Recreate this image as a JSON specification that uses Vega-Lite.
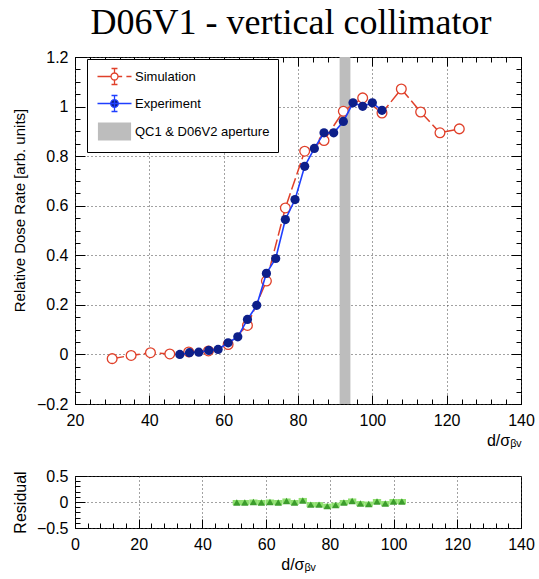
{
  "$schema": "https://vega.github.io/schema/vega-lite/v6.json",
  "padding": {"left": 11, "top": 4, "right": 19, "bottom": 2},
  "title": {"text": "D06V1 - vertical collimator", "font": "Liberation Serif", "fontSize": 36, "fontWeight": "normal", "color": "black", "anchor": "middle", "frame": "group", "offset": 7, "dx": -7},
  "config": {
    "view": {"stroke": "black", "strokeWidth": 1},
    "axis": {"labelFont": "Liberation Sans", "titleFont": "Liberation Sans", "labelColor": "black", "titleColor": "black", "tickColor": "black", "domain": false, "titleFontWeight": "normal", "labelFlush": false, "labelOverlap": false, "labelBound": false, "labelFontSize": 16, "titleFontSize": 16, "gridColor": "#444444", "gridDash": [1, 3], "gridOpacity": 1, "tickWidth": 1},
    "legend": {"orient": "none", "legendX": 12, "legendY": 2, "title": null, "strokeColor": "black", "fillColor": "white", "padding": 8, "symbolSize": 289, "symbolStrokeWidth": 1.3, "labelFont": "Liberation Sans", "labelFontSize": 13, "labelColor": "black", "labelOffset": 11, "rowPadding": 4, "symbolOffset": 10}
  },
  "datasets": {
    "band": [{"series": "QC1 & D06V2 aperture", "x1": 91.2, "x2": 94.1}],
    "sim": [
      {"x": 30.0, "y": -0.017}, {"x": 35.1, "y": -0.004}, {"x": 40.3, "y": 0.007}, {"x": 45.5, "y": 0.002},
      {"x": 50.6, "y": 0.01}, {"x": 55.9, "y": 0.014}, {"x": 61.2, "y": 0.04}, {"x": 66.4, "y": 0.117},
      {"x": 71.5, "y": 0.296}, {"x": 76.6, "y": 0.591}, {"x": 81.8, "y": 0.82}, {"x": 87.0, "y": 0.863},
      {"x": 92.2, "y": 0.981}, {"x": 97.4, "y": 1.035}, {"x": 102.6, "y": 0.974}, {"x": 107.8, "y": 1.071},
      {"x": 113.0, "y": 0.978}, {"x": 118.2, "y": 0.894}, {"x": 123.4, "y": 0.91}
    ],
    "exp": [
      {"x": 48.2, "y": 0.0}, {"x": 50.8, "y": 0.007}, {"x": 53.3, "y": 0.009}, {"x": 56.0, "y": 0.016},
      {"x": 58.5, "y": 0.02}, {"x": 61.2, "y": 0.047}, {"x": 63.8, "y": 0.071}, {"x": 66.4, "y": 0.141},
      {"x": 68.9, "y": 0.198}, {"x": 71.5, "y": 0.327}, {"x": 74.0, "y": 0.387}, {"x": 76.6, "y": 0.544},
      {"x": 79.2, "y": 0.625}, {"x": 81.8, "y": 0.759}, {"x": 84.4, "y": 0.831}, {"x": 87.0, "y": 0.894},
      {"x": 89.6, "y": 0.894}, {"x": 92.2, "y": 0.94}, {"x": 94.8, "y": 1.015}, {"x": 97.4, "y": 1.001},
      {"x": 100.0, "y": 1.015}, {"x": 102.6, "y": 0.985}
    ],
    "res": [
      {"x": 50.8, "r": -0.01, "xlo": 49.5, "xhi": 52.1}, {"x": 53.3, "r": -0.01, "xlo": 52.0, "xhi": 54.6},
      {"x": 56.0, "r": 0.0, "xlo": 54.7, "xhi": 57.3}, {"x": 58.5, "r": -0.01, "xlo": 57.2, "xhi": 59.8},
      {"x": 61.2, "r": 0.0, "xlo": 59.9, "xhi": 62.5}, {"x": 63.8, "r": -0.01, "xlo": 62.5, "xhi": 65.1},
      {"x": 66.4, "r": 0.02, "xlo": 65.1, "xhi": 67.7}, {"x": 68.9, "r": -0.01, "xlo": 67.6, "xhi": 70.2},
      {"x": 71.5, "r": 0.03, "xlo": 70.2, "xhi": 72.8}, {"x": 74.0, "r": -0.05, "xlo": 72.7, "xhi": 75.3},
      {"x": 76.6, "r": -0.05, "xlo": 75.3, "xhi": 77.9}, {"x": 79.2, "r": -0.08, "xlo": 77.9, "xhi": 80.5},
      {"x": 81.8, "r": -0.06, "xlo": 80.5, "xhi": 83.1}, {"x": 84.4, "r": -0.01, "xlo": 83.1, "xhi": 85.7},
      {"x": 87.0, "r": 0.02, "xlo": 85.7, "xhi": 88.3}, {"x": 89.6, "r": -0.03, "xlo": 88.3, "xhi": 90.9},
      {"x": 92.2, "r": -0.04, "xlo": 90.9, "xhi": 93.5}, {"x": 94.8, "r": 0.01, "xlo": 93.5, "xhi": 96.1},
      {"x": 97.4, "r": -0.03, "xlo": 96.1, "xhi": 98.7}, {"x": 100.0, "r": 0.01, "xlo": 98.7, "xhi": 101.3},
      {"x": 102.6, "r": 0.01, "xlo": 101.3, "xhi": 103.9}
    ]
  },
  "spacing": 18,
  "vconcat": [
    {
      "width": 446,
      "height": 347,
      "resolve": {"axis": {"x": "independent", "y": "independent"}},
      "layer": [
        {
          "data": {"name": "band"},
          "mark": {"type": "rect", "color": "#bdbdbd", "opacity": 1},
          "encoding": {
            "x": {"field": "x1", "type": "quantitative", "scale": {"domain": [20, 140], "nice": false, "zero": false},
              "axis": {"orient": "bottom", "values": [20, 40, 60, 80, 100, 120, 140], "format": "d", "tickSize": -9, "labelPadding": 17, "grid": true, "title": "d/σᵦᵥ", "titleAnchor": "end", "titlePadding": 4}},
            "x2": {"field": "x2"},
            "y": {"datum": -0.2, "type": "quantitative", "scale": {"domain": [-0.2, 1.2], "nice": false, "zero": false},
              "axis": {"orient": "left", "values": [-0.2, 0, 0.2, 0.4, 0.6, 0.8, 1, 1.2], "format": ".1~f", "tickSize": -10, "labelPadding": 17, "grid": true, "title": "Relative Dose Rate [arb. units]", "titleFontSize": 15, "titlePadding": 13, "minExtent": 35, "maxExtent": 35, "titleY": 153}},
            "y2": {"datum": 1.2}
          }
        },
        {
          "data": {"name": "band"},
          "mark": {"type": "point", "filled": true, "strokeWidth": 1.3, "opacity": 1, "clip": true},
          "encoding": {
            "x": {"field": "x1", "type": "quantitative", "scale": {"domain": [20, 140], "nice": false, "zero": false}, "axis": null},
            "y": {"datum": 2, "type": "quantitative", "scale": {"domain": [-0.2, 1.2], "nice": false, "zero": false}, "axis": null},
            "shape": {"field": "series", "type": "nominal",
              "scale": {"domain": ["Simulation", "Experiment", "QC1 & D06V2 aperture"], "range": [
                "M-2,0L-0.41,0M0.41,0L0.9,0M1.4,0L2,0M0,-0.41L0,-0.94M-0.35,-0.94L0.35,-0.94M0,0.41L0,0.94M-0.35,0.94L0.35,0.94M0.41,0A0.41,0.41 0 1,1 -0.41,0A0.41,0.41 0 1,1 0.41,0Z",
                "M-2,0L2,0M0,-0.94L0,0.94M-0.35,-0.94L0.35,-0.94M-0.35,0.94L0.35,0.94M0.45,0A0.45,0.45 0 1,1 -0.45,0A0.45,0.45 0 1,1 0.45,0Z",
                "M-1.95,-1.05L1.95,-1.05L1.95,1.05L-1.95,1.05Z"]},
              "legend": {"title": null}},
            "fill": {"field": "series", "type": "nominal",
              "scale": {"domain": ["Simulation", "Experiment", "QC1 & D06V2 aperture"], "range": ["transparent", "#0d1f8a", "#bdbdbd"]},
              "legend": {"title": null}},
            "stroke": {"field": "series", "type": "nominal",
              "scale": {"domain": ["Simulation", "Experiment", "QC1 & D06V2 aperture"], "range": ["#e0402a", "#1f3fff", "transparent"]},
              "legend": {"title": null}}
          }
        },
        {
          "data": {"name": "sim"},
          "mark": {"type": "line", "color": "#e0402a", "strokeWidth": 1.5, "strokeDash": [12, 4]},
          "encoding": {
            "x": {"field": "x", "type": "quantitative", "scale": {"domain": [20, 140], "nice": false, "zero": false},
              "axis": {"orient": "bottom", "values": [20, 24, 28, 32, 36, 40, 44, 48, 52, 56, 60, 64, 68, 72, 76, 80, 84, 88, 92, 96, 100, 104, 108, 112, 116, 120, 124, 128, 132, 136, 140], "tickSize": -5, "labels": false, "grid": false, "title": null}},
            "y": {"field": "y", "type": "quantitative", "scale": {"domain": [-0.2, 1.2], "nice": false, "zero": false},
              "axis": {"orient": "left", "values": [-0.2, -0.15, -0.1, -0.05, 0, 0.05, 0.1, 0.15, 0.2, 0.25, 0.3, 0.35, 0.4, 0.45, 0.5, 0.55, 0.6, 0.65, 0.7, 0.75, 0.8, 0.85, 0.9, 0.95, 1, 1.05, 1.1, 1.15, 1.2], "tickSize": -5, "labels": false, "grid": false, "title": null}}
          }
        },
        {
          "data": {"name": "sim"},
          "mark": {"type": "point", "shape": "circle", "filled": true, "fill": "white", "stroke": "#e0402a", "strokeWidth": 1.3, "size": 95, "opacity": 1},
          "encoding": {
            "x": {"field": "x", "type": "quantitative", "scale": {"domain": [20, 140], "nice": false, "zero": false},
              "axis": {"orient": "top", "values": [20, 40, 60, 80, 100, 120, 140], "tickSize": -9, "labels": false, "grid": false, "title": null}},
            "y": {"field": "y", "type": "quantitative", "scale": {"domain": [-0.2, 1.2], "nice": false, "zero": false},
              "axis": {"orient": "right", "values": [-0.2, 0, 0.2, 0.4, 0.6, 0.8, 1, 1.2], "tickSize": -10, "labels": false, "grid": false, "title": null}}
          }
        },
        {
          "data": {"name": "exp"},
          "mark": {"type": "line", "color": "#1f3fff", "strokeWidth": 1.6},
          "encoding": {
            "x": {"field": "x", "type": "quantitative", "scale": {"domain": [20, 140], "nice": false, "zero": false},
              "axis": {"orient": "top", "values": [20, 24, 28, 32, 36, 40, 44, 48, 52, 56, 60, 64, 68, 72, 76, 80, 84, 88, 92, 96, 100, 104, 108, 112, 116, 120, 124, 128, 132, 136, 140], "tickSize": -5, "labels": false, "grid": false, "title": null}},
            "y": {"field": "y", "type": "quantitative", "scale": {"domain": [-0.2, 1.2], "nice": false, "zero": false},
              "axis": {"orient": "right", "values": [-0.2, -0.15, -0.1, -0.05, 0, 0.05, 0.1, 0.15, 0.2, 0.25, 0.3, 0.35, 0.4, 0.45, 0.5, 0.55, 0.6, 0.65, 0.7, 0.75, 0.8, 0.85, 0.9, 0.95, 1, 1.05, 1.1, 1.15, 1.2], "tickSize": -5, "labels": false, "grid": false, "title": null}}
          }
        },
        {
          "data": {"name": "exp"},
          "mark": {"type": "point", "shape": "circle", "filled": true, "color": "#0d1f8a", "size": 85, "opacity": 1},
          "encoding": {
            "x": {"field": "x", "type": "quantitative", "scale": {"domain": [20, 140], "nice": false, "zero": false}, "axis": null},
            "y": {"field": "y", "type": "quantitative", "scale": {"domain": [-0.2, 1.2], "nice": false, "zero": false}, "axis": null}
          }
        }
      ]
    },
    {
      "width": 446,
      "height": 52,
      "resolve": {"axis": {"x": "independent", "y": "independent"}},
      "layer": [
        {
          "data": {"name": "res"},
          "mark": {"type": "rule", "color": "#8fe070", "strokeWidth": 5},
          "encoding": {
            "x": {"field": "xlo", "type": "quantitative", "scale": {"domain": [0, 140], "nice": false, "zero": false},
              "axis": {"orient": "bottom", "values": [0, 20, 40, 60, 80, 100, 120, 140], "format": "d", "tickSize": -9, "labelPadding": 17, "grid": true, "title": "d/σᵦᵥ", "titlePadding": 4}},
            "x2": {"field": "xhi"},
            "y": {"field": "r", "type": "quantitative", "scale": {"domain": [-0.5, 0.5], "nice": false, "zero": false},
              "axis": {"orient": "left", "values": [-0.5, 0, 0.5], "format": ".1~f", "tickSize": -10, "labelPadding": 17, "grid": true, "title": "Residual", "titleFontSize": 16, "titlePadding": 12, "minExtent": 35, "maxExtent": 35}}
          }
        },
        {
          "data": {"name": "res"},
          "mark": {"type": "point", "shape": "triangle-up", "filled": true, "color": "#3c9c2c", "size": 55, "opacity": 1},
          "encoding": {
            "x": {"field": "x", "type": "quantitative", "scale": {"domain": [0, 140], "nice": false, "zero": false},
              "axis": {"orient": "bottom", "values": [0, 4, 8, 12, 16, 20, 24, 28, 32, 36, 40, 44, 48, 52, 56, 60, 64, 68, 72, 76, 80, 84, 88, 92, 96, 100, 104, 108, 112, 116, 120, 124, 128, 132, 136, 140], "tickSize": -5, "labels": false, "grid": false, "title": null}},
            "y": {"field": "r", "type": "quantitative", "scale": {"domain": [-0.5, 0.5], "nice": false, "zero": false},
              "axis": {"orient": "left", "values": [-0.5, -0.4, -0.3, -0.2, -0.1, 0, 0.1, 0.2, 0.3, 0.4, 0.5], "tickSize": -5, "labels": false, "grid": false, "title": null}}
          }
        }
      ]
    }
  ]
}
